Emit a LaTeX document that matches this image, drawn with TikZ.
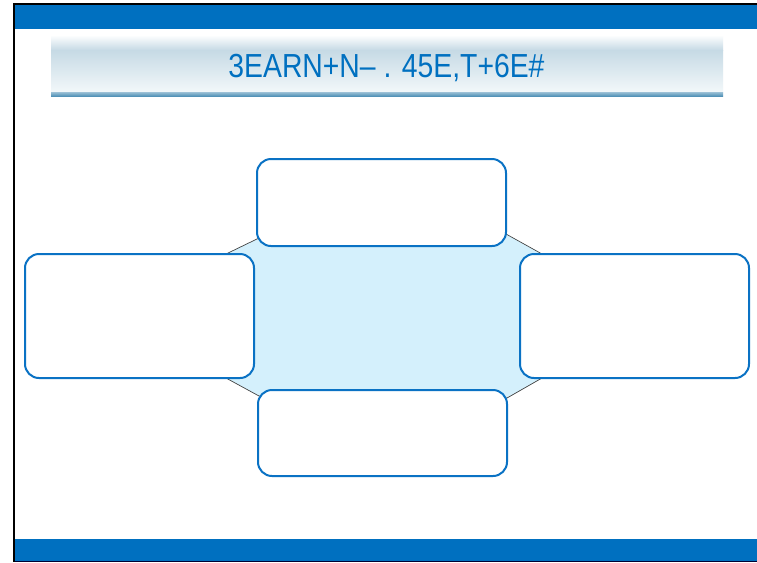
\documentclass[tikz,border=0pt]{standalone}
\usepackage{fontspec}
\usepackage{graphicx}
\newfontfamily\titlefont{Liberation Sans}
\definecolor{bandblue}{HTML}{0070C0}
\definecolor{boxblue}{HTML}{0A72C4}
\definecolor{centerfill}{HTML}{D4F0FC}
\definecolor{barmid}{HTML}{C6DAE5}
\definecolor{barlow}{HTML}{F3F8FA}
\definecolor{barline}{HTML}{4A8DB4}
\tikzset{
  band/.style={fill=bandblue, draw=none},
  cbox/.style={draw=boxblue, line width=1.5pt, fill=white, rounded corners=10.5pt},
  hub/.style={fill=centerfill, draw=black!75, line width=0.5pt},
}
\begin{document}
\begin{tikzpicture}[x=0.75pt,y=-0.75pt]
\useasboundingbox (0,0) rectangle (757,562);
% frame and bands
\fill[white] (0,0) rectangle (757,562);
\path[band] (15,5) rectangle (757,28.5);
\path[band] (15,539) rectangle (757,561);
\fill[black] (13,3) rectangle (757,5);
\fill[black] (13,3) rectangle (15,562);
\fill[black!80!blue] (15,561) rectangle (757,562);
% title bar
\shade[top color=white, bottom color=barmid] (51,35) rectangle (723,50);
\shade[top color=barmid, bottom color=barlow] (51,50) rectangle (723,92.5);
\shade[top color=barline!60, bottom color=barline] (51,92.5) rectangle (723,96.5);
\node[anchor=base, text=bandblue, inner sep=0pt] (title) at (386.5,77)
  {\scalebox{0.85}[1]{\titlefont\fontsize{25pt}{30pt}\selectfont 3EARN+N– . 45E,T+6E\#}};
% central hub
\path[hub] (226,254) -- (258,238.5) -- (506,234) -- (542,254) -- (542,378)
  -- (507,398) -- (259,396) -- (226,378) -- cycle;
% boxes
\draw[cbox] (257,159) rectangle (506,246);
\draw[cbox] (25,254) rectangle (254,378);
\draw[cbox] (520,254) rectangle (749,378);
\draw[cbox] (258,390) rectangle (507,476);
\end{tikzpicture}
\end{document}
